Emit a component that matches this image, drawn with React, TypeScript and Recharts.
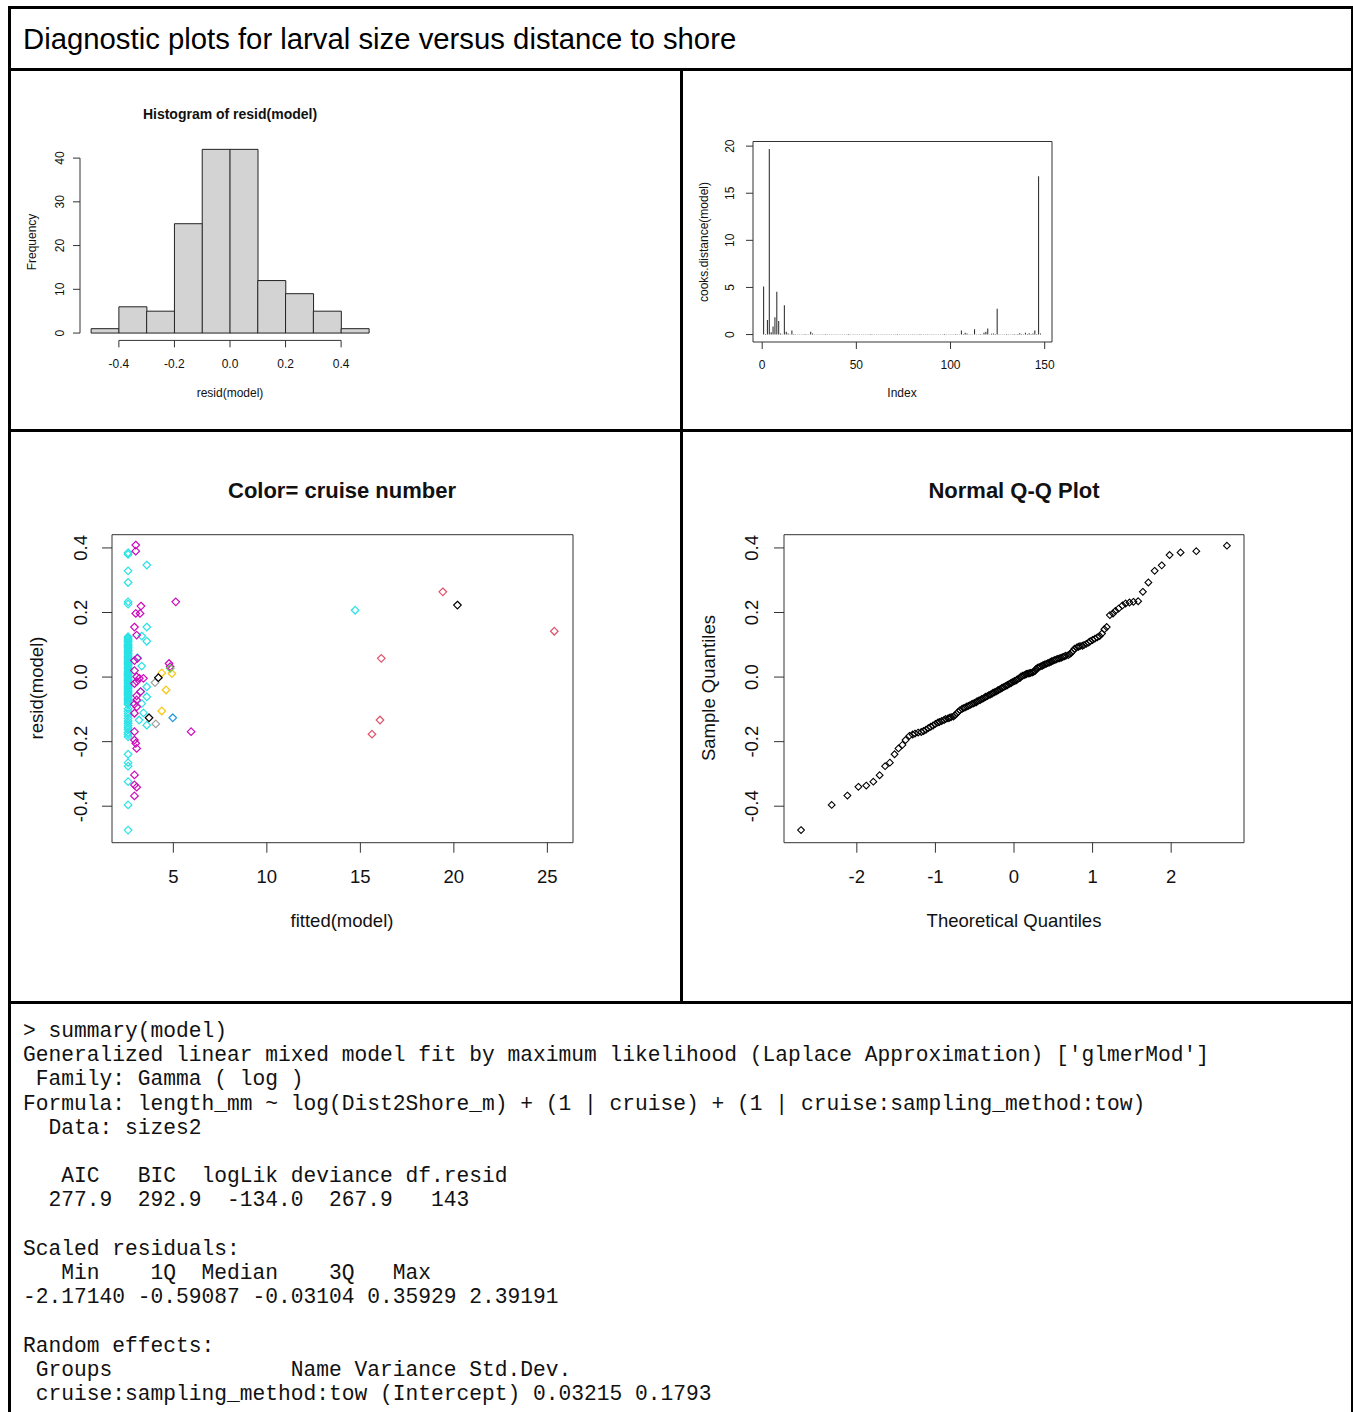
import React from "react";
import {
  BarChart,
  Bar,
  XAxis,
  YAxis,
  ScatterChart,
  Scatter,
  ReferenceArea,
  ReferenceLine,
} from "recharts";

const FONT = '"Liberation Sans", Arial, sans-serif';
const MONO = '"Liberation Mono", "Courier New", monospace';

// ---- histogram of resid(model): bin centres and counts
const histMids = [-0.45, -0.35, -0.25, -0.15, -0.05, 0.05, 0.15, 0.25, 0.35, 0.45];
const histCounts = [1, 6, 5, 25, 42, 42, 12, 9, 5, 1];
const histXTicks = [-0.4, -0.2, 0, 0.2, 0.4];
const histYTicks = [0, 10, 20, 30, 40];

// ---- cooks.distance(model), observations 1..148
const cooksDist = [
  5.1, 0.05, 1.55, 19.7, 0.25, 0.85, 1.85, 4.55, 1.45, 0.12,
  0.04, 3.1, 0.3, 0.12, 0.03, 0.42, 0.05, 0.03, 0.02, 0.04,
  0.03, 0.02, 0.05, 0.02, 0.04, 0.3, 0.12, 0.04,
  0.03, 0.02, 0.04, 0.02, 0.03, 0.05, 0.02, 0.03, 0.02, 0.04, 0.03, 0.02,
  0.03, 0.04, 0.02, 0.03, 0.02, 0.05, 0.03, 0.02, 0.04, 0.03, 0.02, 0.03,
  0.02, 0.04, 0.03, 0.02, 0.03, 0.05, 0.02, 0.03, 0.04, 0.02, 0.03, 0.02,
  0.04, 0.03, 0.02, 0.03, 0.02, 0.04, 0.03, 0.05, 0.02, 0.03, 0.02, 0.04,
  0.03, 0.02, 0.03, 0.04, 0.02, 0.03, 0.02, 0.05, 0.03, 0.02, 0.04, 0.03,
  0.02, 0.03, 0.04, 0.02, 0.03, 0.02, 0.04, 0.03, 0.05, 0.02, 0.03, 0.04,
  0.03, 0.02, 0.06, 0.04,
  0.02, 0.42, 0.05, 0.18, 0.12, 0.03, 0.04, 0.02, 0.55, 0.03, 0.04,
  0.05, 0.03, 0.2, 0.3, 0.65, 0.04, 0.08, 0.12, 0.06, 2.75, 0.04,
  0.03, 0.04, 0.02, 0.05, 0.03, 0.04, 0.02, 0.06, 0.03, 0.05,
  0.15, 0.05, 0.04, 0.18, 0.06, 0.14, 0.05, 0.1, 0.42, 0.05, 16.8, 0.12,
];
const cooksXTicks = [0, 50, 100, 150];
const cooksYTicks = [0, 5, 10, 15, 20];

// ---- resid vs fitted, colour = cruise
const cyanColFitted = 2.58;
const cyanColResid = [
  0.385, 0.38, 0.329, 0.293, 0.233, 0.226,
  0.125, 0.121, 0.118, 0.114, 0.11, 0.106, 0.101, 0.098, 0.094, 0.091,
  0.087, 0.083, 0.08, 0.075, 0.072, 0.068, 0.064, 0.06, 0.057, 0.053,
  0.049, 0.046, 0.041, 0.038, 0.034, 0.03, 0.027, 0.022, 0.019, 0.015,
  0.011, 0.008, 0.004, 0.001, -0.003, -0.007, -0.01, -0.014, -0.018, -0.021,
  -0.026, -0.029, -0.033, -0.036, -0.04, -0.044, -0.047, -0.051, -0.055, -0.058,
  -0.062, -0.066, -0.07, -0.073, -0.077, -0.081, -0.085,
  -0.098, -0.106, -0.113, -0.12, -0.128, -0.136, -0.143, -0.15, -0.157, -0.163,
  -0.172, -0.178, -0.185, -0.239, -0.265, -0.276, -0.324, -0.396, -0.474,
];
const cyanPts: [number, number][] = [
  [3.58, 0.347], [3.58, 0.155], [3.31, 0.127], [3.58, 0.111], [3.08, 0.06],
  [3.31, 0.034], [3.58, -0.03], [3.58, -0.061], [3.25, -0.045], [3.31, -0.082],
  [3.4, -0.111], [3.17, -0.133], [3.58, -0.149], [14.72, 0.207],
];
const magentaPts: [number, number][] = [
  [2.99, 0.409], [2.99, 0.39], [3.27, 0.22], [2.99, 0.197], [3.22, 0.197],
  [2.92, 0.155], [3.04, 0.13], [2.92, 0.051], [3.08, 0.058], [2.92, 0.02],
  [3.04, 0.001], [3.18, -0.004], [3.4, -0.004], [2.92, -0.02], [3.04, -0.014],
  [3.25, -0.045], [3.04, -0.058], [3.04, -0.071], [2.92, -0.084], [3.04, -0.092],
  [2.92, -0.112], [2.92, -0.169], [2.92, -0.195], [2.99, -0.205], [3.04, -0.221],
  [2.92, -0.303], [2.92, -0.334], [3.04, -0.341], [2.92, -0.368], [5.13, 0.233],
  [5.95, -0.169], [4.77, 0.042], [4.83, 0.032],
];
const yellowPts: [number, number][] = [[4.38, 0.013], [4.92, 0.011], [4.61, -0.04], [4.38, -0.105]];
const greenPts: [number, number][] = [[4.83, 0.027]];
const blackPts: [number, number][] = [[4.2, -0.002], [3.7, -0.126], [20.19, 0.223]];
const grayPts: [number, number][] = [[4.02, -0.017], [4.06, -0.145]];
const bluePts: [number, number][] = [[4.97, -0.126]];
const redPts: [number, number][] = [
  [19.41, 0.264], [25.37, 0.142], [16.12, 0.058], [16.05, -0.133], [15.62, -0.177],
];
const residXTicks = [5, 10, 15, 20, 25];
const residYTicks = [-0.4, -0.2, 0, 0.2, 0.4];

// ---- normal Q-Q
const qqTheoretical = [
  -2.71, -2.32, -2.12, -1.98, -1.88, -1.79, -1.71, -1.64, -1.58, -1.52,
  -1.47, -1.42, -1.38, -1.33, -1.29, -1.26, -1.22, -1.18, -1.15, -1.12,
  -1.09, -1.06, -1.03, -1.0, -0.97, -0.95, -0.92, -0.89, -0.87, -0.84,
  -0.82, -0.8, -0.77, -0.75, -0.73, -0.71, -0.69, -0.66, -0.64, -0.62,
  -0.6, -0.58, -0.56, -0.54, -0.52, -0.5, -0.48, -0.47, -0.45, -0.43,
  -0.41, -0.39, -0.37, -0.36, -0.34, -0.32, -0.3, -0.28, -0.27, -0.25,
  -0.23, -0.21, -0.2, -0.18, -0.16, -0.15, -0.13, -0.11, -0.09, -0.08,
  -0.06, -0.04, -0.03, -0.01,
  0.01, 0.03, 0.04, 0.06, 0.08, 0.09, 0.11, 0.13, 0.15, 0.16,
  0.18, 0.2, 0.21, 0.23, 0.25, 0.27, 0.28, 0.3, 0.32, 0.34,
  0.36, 0.37, 0.39, 0.41, 0.43, 0.45, 0.47, 0.48, 0.5, 0.52,
  0.54, 0.56, 0.58, 0.6, 0.62, 0.64, 0.66, 0.69, 0.71, 0.73,
  0.75, 0.77, 0.8, 0.82, 0.84, 0.87, 0.89, 0.92, 0.95, 0.97,
  1.0, 1.03, 1.06, 1.09, 1.12, 1.15, 1.18, 1.22, 1.26, 1.29,
  1.33, 1.38, 1.42, 1.47, 1.52, 1.58, 1.64, 1.71, 1.79, 1.88,
  1.98, 2.12, 2.32, 2.71,
];
const qqSample = [
  -0.474,
  -0.396, -0.367, -0.34, -0.336, -0.324, -0.304,
  -0.276, -0.265, -0.239, -0.221, -0.21,
  -0.195, -0.182, -0.178, -0.175, -0.172, -0.17, -0.167, -0.163, -0.158, -0.154,
  -0.15, -0.145, -0.141, -0.139, -0.136, -0.133, -0.13, -0.128, -0.126, -0.124,
  -0.122, -0.118, -0.113, -0.108, -0.103,
  -0.098, -0.096, -0.094, -0.091, -0.089, -0.087, -0.084, -0.082, -0.08, -0.078,
  -0.075, -0.073, -0.071, -0.068, -0.066, -0.063, -0.061, -0.059, -0.056, -0.054,
  -0.052, -0.049, -0.047, -0.045, -0.042, -0.04, -0.038, -0.035, -0.033, -0.031,
  -0.028, -0.026, -0.024, -0.021, -0.019, -0.017, -0.014, -0.012, -0.01, -0.007,
  -0.005, -0.002,
  0.002, 0.004, 0.006, 0.008, 0.01, 0.011, 0.012, 0.013, 0.014, 0.016,
  0.019, 0.025, 0.029, 0.031, 0.033, 0.035, 0.037, 0.039, 0.041, 0.043,
  0.045, 0.047, 0.049, 0.051, 0.053, 0.055, 0.057, 0.058, 0.06, 0.062,
  0.064, 0.066, 0.068, 0.071, 0.075, 0.081, 0.088, 0.092, 0.094, 0.096,
  0.097, 0.099,
  0.103, 0.107, 0.111, 0.115, 0.119, 0.123, 0.127, 0.135, 0.148, 0.155, 0.192, 0.197,
  0.205, 0.212, 0.222, 0.228, 0.231, 0.233, 0.235, 0.264, 0.293,
  0.329, 0.346, 0.378, 0.386, 0.39,
  0.407,
];
const qqXTicks = [-2, -1, 0, 1, 2];

const summaryLines = [
  "> summary(model)",
  "Generalized linear mixed model fit by maximum likelihood (Laplace Approximation) ['glmerMod']",
  " Family: Gamma ( log )",
  "Formula: length_mm ~ log(Dist2Shore_m) + (1 | cruise) + (1 | cruise:sampling_method:tow)",
  "  Data: sizes2",
  "",
  "   AIC   BIC  logLik deviance df.resid",
  "  277.9  292.9  -134.0  267.9   143",
  "",
  "Scaled residuals:",
  "   Min    1Q  Median    3Q   Max",
  "-2.17140 -0.59087 -0.03104 0.35929 2.39191",
  "",
  "Random effects:",
  " Groups              Name Variance Std.Dev.",
  " cruise:sampling_method:tow (Intercept) 0.03215 0.1793",
];

const XTick = ({ x, y, payload, fs, fmt }: any) => (
  <text x={x} y={y} dy="0.71em" textAnchor="middle" fontSize={fs} fontFamily={FONT} fill="#111">
    {fmt ? fmt(payload.value) : payload.value}
  </text>
);

const YTick = ({ x, y, payload, fs, fmt }: any) => (
  <text
    x={x}
    y={y}
    transform={`rotate(-90 ${x} ${y})`}
    textAnchor="middle"
    fontSize={fs}
    fontFamily={FONT}
    fill="#111"
  >
    {fmt ? fmt(payload.value) : payload.value}
  </text>
);

const diamond = (color: string, r: number, sw: number) => (props: any) => {
  const { cx, cy } = props;
  if (cx == null || cy == null) return <g />;
  return (
    <path
      d={`M${cx},${cy - r}L${cx + r},${cy}L${cx},${cy + r}L${cx - r},${cy}Z`}
      fill="none"
      stroke={color}
      strokeWidth={sw}
    />
  );
};

const toXY = (pts: [number, number][]) => pts.map(([x, y]) => ({ x, y }));
const one = (v: number) => v.toFixed(1);

const Histogram = () => {
  const data = histMids.map((mid, i) => ({ mid, count: histCounts[i] }));
  return (
    <BarChart width={400} height={340} data={data} margin={{ top: 70, right: 30, bottom: 13.6, left: 0 }} barCategoryGap={0} barGap={0}>
      <XAxis
        dataKey="mid"
        type="number"
        domain={[-0.54, 0.54]}
        allowDataOverflow
        ticks={histXTicks}
        height={58}
        axisLine={false}
        tickSize={7}
        tickMargin={12}
        tickLine={{ stroke: "#333" }}
        tick={(p: any) => <XTick {...p} fs={12} fmt={one} />}
      />
      <YAxis
        type="number"
        domain={[-1.68, 43.68]}
        allowDataOverflow
        ticks={histYTicks}
        width={70}
        axisLine={false}
        tickSize={7}
        tickMargin={9}
        tickLine={{ stroke: "#333" }}
        tick={(p: any) => <YTick {...p} fs={12} />}
      />
      <Bar dataKey="count" fill="#D3D3D3" stroke="#222" strokeWidth={1} isAnimationActive={false} />
      <ReferenceLine segment={[{ x: -0.4, y: -1.68 }, { x: 0.4, y: -1.68 }]} stroke="#333" ifOverflow="visible" />
      <ReferenceLine segment={[{ x: -0.54, y: 0 }, { x: -0.54, y: 40 }]} stroke="#333" ifOverflow="visible" />
    </BarChart>
  );
};

const CooksPlot = () => {
  const data = cooksDist.map((d, i) => ({ idx: i + 1, d }));
  return (
    <BarChart width={400} height={340} data={data} margin={{ top: 69.5, right: 32, bottom: 10, left: 0 }}>
      <XAxis
        dataKey="idx"
        type="number"
        domain={[-4.88, 153.88]}
        allowDataOverflow
        ticks={cooksXTicks}
        height={60}
        axisLine={false}
        tickSize={7}
        tickMargin={11}
        tickLine={{ stroke: "#333" }}
        tick={(p: any) => <XTick {...p} fs={12} />}
      />
      <YAxis
        type="number"
        domain={[-0.79, 20.49]}
        allowDataOverflow
        ticks={cooksYTicks}
        width={69}
        axisLine={false}
        tickSize={7}
        tickMargin={12}
        tickLine={{ stroke: "#333" }}
        tick={(p: any) => <YTick {...p} fs={12} />}
      />
      <ReferenceArea x1={-4.88} x2={153.88} y1={-0.79} y2={20.49} fill="none" stroke="#333" ifOverflow="visible" />
      <Bar dataKey="d" barSize={1} fill="#222" isAnimationActive={false} />
    </BarChart>
  );
};

const ResidPlot = () => {
  const column = cyanColResid.map((y) => ({ x: cyanColFitted, y }));
  const series: [any[], string][] = [
    [column, "#28E2E5"],
    [toXY(cyanPts), "#28E2E5"],
    [toXY(magentaPts), "#CD0BBC"],
    [toXY(yellowPts), "#F5C710"],
    [toXY(greenPts), "#61D04F"],
    [toXY(grayPts), "#9E9E9E"],
    [toXY(bluePts), "#2297E6"],
    [toXY(redPts), "#DF536B"],
    [toXY(blackPts), "#000000"],
  ];
  return (
    <ScatterChart width={660} height={560} margin={{ top: 101.7, right: 99, bottom: 50.3, left: 0 }}>
      <XAxis
        dataKey="x"
        type="number"
        domain={[1.72, 26.37]}
        allowDataOverflow
        ticks={residXTicks}
        height={100}
        axisLine={false}
        tickSize={10}
        tickMargin={17}
        tickLine={{ stroke: "#333" }}
        tick={(p: any) => <XTick {...p} fs={18.5} />}
      />
      <YAxis
        dataKey="y"
        type="number"
        domain={[-0.513, 0.441]}
        allowDataOverflow
        ticks={residYTicks}
        width={100}
        axisLine={false}
        tickSize={10}
        tickMargin={15}
        tickLine={{ stroke: "#333" }}
        tick={(p: any) => <YTick {...p} fs={18.5} fmt={one} />}
      />
      <ReferenceArea x1={1.72} x2={26.37} y1={-0.513} y2={0.441} fill="none" stroke="#333" ifOverflow="visible" />
      {series.map(([pts, color], i) => (
        <Scatter key={i} data={pts} shape={diamond(color, 3.8, 1.2)} isAnimationActive={false} />
      ))}
    </ScatterChart>
  );
};

const QQPlot = () => {
  const data = qqTheoretical.map((x, i) => ({ x, y: qqSample[i] }));
  return (
    <ScatterChart width={660} height={560} margin={{ top: 101.7, right: 100, bottom: 50.3, left: 0 }}>
      <XAxis
        dataKey="x"
        type="number"
        domain={[-2.927, 2.927]}
        allowDataOverflow
        ticks={qqXTicks}
        height={100}
        axisLine={false}
        tickSize={10}
        tickMargin={17}
        tickLine={{ stroke: "#333" }}
        tick={(p: any) => <XTick {...p} fs={18.5} />}
      />
      <YAxis
        dataKey="y"
        type="number"
        domain={[-0.513, 0.441]}
        allowDataOverflow
        ticks={residYTicks}
        width={100}
        axisLine={false}
        tickSize={10}
        tickMargin={16}
        tickLine={{ stroke: "#333" }}
        tick={(p: any) => <YTick {...p} fs={18.5} fmt={one} />}
      />
      <ReferenceArea x1={-2.927} x2={2.927} y1={-0.513} y2={0.441} fill="none" stroke="#333" ifOverflow="visible" />
      <Scatter data={data} shape={diamond("#000", 3.4, 1.1)} isAnimationActive={false} />
    </ScatterChart>
  );
};

const Text = ({ x, y, size, bold, rotate, children }: any) => (
  <div
    style={{
      position: "absolute",
      left: x,
      top: y,
      transform: `translate(-50%, -50%)${rotate ? " rotate(-90deg)" : ""}`,
      fontFamily: FONT,
      fontSize: size,
      fontWeight: bold ? 700 : 400,
      lineHeight: 1,
      whiteSpace: "nowrap",
      color: "#111",
    }}
  >
    {children}
  </div>
);

const Rule = ({ x, y, w, h }: any) => (
  <div style={{ position: "absolute", left: x, top: y, width: w, height: h, background: "#000" }} />
);

const Box = ({ x, y, children }: any) => (
  <div style={{ position: "absolute", left: x, top: y }}>{children}</div>
);

export default function App() {
  return (
    <div style={{ position: "absolute", left: 0, top: 0, width: 1353, height: 1412, overflow: "hidden", background: "#fff" }}>
      {/* frame */}
      <Rule x={8} y={6} w={1345} h={2.5} />
      <Rule x={8} y={6} w={2.5} h={1406} />
      <Rule x={1350.5} y={6} w={2.5} h={1406} />
      <Rule x={8} y={68} w={1345} h={2.5} />
      <Rule x={8} y={429} w={1345} h={2.5} />
      <Rule x={8} y={1001} w={1345} h={2.5} />
      <Rule x={680} y={68} w={2.5} h={935} />

      <div style={{ position: "absolute", left: 23, top: 39, transform: "translateY(-50%)", fontFamily: FONT, fontSize: 29.3, lineHeight: 1, whiteSpace: "nowrap", color: "#000" }}>
        Diagnostic plots for larval size versus distance to shore
      </div>

      <Box x={10} y={72}><Histogram /></Box>
      <Text x={230} y={114} size={14} bold>Histogram of resid(model)</Text>
      <Text x={32} y={242} size={12} rotate>Frequency</Text>
      <Text x={230} y={393} size={12}>resid(model)</Text>

      <Box x={684} y={72}><CooksPlot /></Box>
      <Text x={704} y={242} size={12} rotate>cooks.distance(model)</Text>
      <Text x={902} y={393} size={12}>Index</Text>

      <Box x={12} y={433}><ResidPlot /></Box>
      <Text x={342} y={491} size={22} bold>Color= cruise number</Text>
      <Text x={37} y={688} size={18.5} rotate>resid(model)</Text>
      <Text x={342} y={921} size={18.5}>fitted(model)</Text>

      <Box x={684} y={433}><QQPlot /></Box>
      <Text x={1014} y={491} size={22} bold>Normal Q-Q Plot</Text>
      <Text x={709} y={688} size={18.5} rotate>Sample Quantiles</Text>
      <Text x={1014} y={921} size={18.5}>Theoretical Quantiles</Text>

      <pre style={{ position: "absolute", left: 23, top: 1019, margin: 0, fontFamily: MONO, fontSize: 21.25, lineHeight: "24.2px", color: "#111" }}>
        {summaryLines.join("\n")}
      </pre>
    </div>
  );
}
